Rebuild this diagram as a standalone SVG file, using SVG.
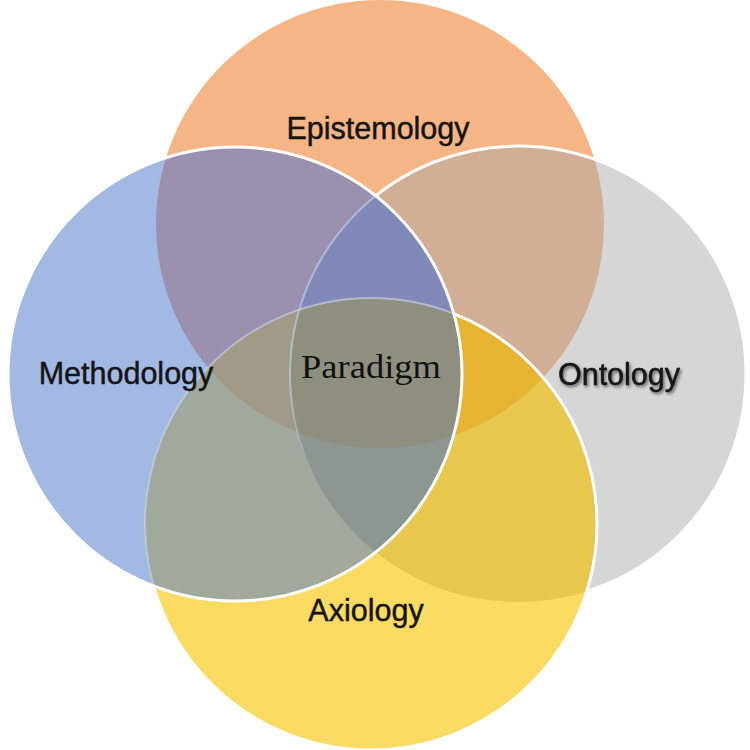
<svg xmlns="http://www.w3.org/2000/svg" width="750" height="750" viewBox="0 0 750 750">
<style>
.lbl{font-family:"Liberation Sans",Arial,sans-serif;font-size:30.5px;fill:#141414;stroke:#141414;stroke-width:0.45;text-anchor:middle}
.edge{fill:none;stroke:#ffffff;stroke-width:3}
.pale{fill:none;stroke:#c9d6ee;stroke-width:2;opacity:0.6}
</style>
<defs>
<clipPath id="cE"><circle cx="380" cy="224" r="224"/></clipPath>
<clipPath id="cM"><circle cx="235" cy="374" r="227"/></clipPath>
<clipPath id="cO"><circle cx="518" cy="374" r="228"/></clipPath>
<clipPath id="cA"><circle cx="371" cy="524" r="226"/></clipPath>
<linearGradient id="fade" x1="0" y1="0" x2="0" y2="1"><stop offset="0" stop-color="#fff"/><stop offset="0.55" stop-color="#fff"/><stop offset="0.72" stop-color="#000"/><stop offset="1" stop-color="#000"/></linearGradient>
<mask id="fadeMask" maskUnits="userSpaceOnUse" x="0" y="0" width="750" height="750"><rect x="0" y="140" width="750" height="460" fill="url(#fade)"/></mask>
<mask id="outMA"><rect width="750" height="750" fill="#fff"/><circle cx="235" cy="374" r="226" fill="#000"/><circle cx="371" cy="524" r="225" fill="#000"/></mask>
<mask id="outM"><rect width="750" height="750" fill="#fff"/><circle cx="235" cy="374" r="226" fill="#000"/></mask>
<filter id="sh" x="-20%" y="-40%" width="140%" height="180%"><feDropShadow dx="1.5" dy="2" stdDeviation="1.8" flood-color="#000" flood-opacity="0.55"/></filter>
</defs>
<rect width="750" height="750" fill="#ffffff"/>

<g id="epistemology"><circle cx="380" cy="224" r="224" fill="#f5b585"/></g>
<g id="ontology"><circle cx="518" cy="374" r="228" fill="#d6d6d6"/></g>
<g id="axiology"><circle cx="371" cy="524" r="226" fill="#fcdb62"/></g>
<g id="methodology"><circle cx="235" cy="374" r="227" fill="#a2b9e3"/></g>

<g id="overlaps">
<g clip-path="url(#cE)"><circle cx="518" cy="374" r="228" fill="#d1ae96"/></g>
<g clip-path="url(#cE)"><circle cx="235" cy="374" r="227" fill="#9b90b0"/></g>
<g clip-path="url(#cO)"><circle cx="371" cy="524" r="226" fill="#e8c74f"/></g>
<g clip-path="url(#cM)"><circle cx="371" cy="524" r="226" fill="#a1a99c"/></g>
<g clip-path="url(#cE)"><g clip-path="url(#cO)"><circle cx="235" cy="374" r="227" fill="#8189b8"/></g></g>
<g clip-path="url(#cE)"><g clip-path="url(#cO)"><circle cx="371" cy="524" r="226" fill="#e6b431"/></g></g>
<g clip-path="url(#cE)"><g clip-path="url(#cM)"><circle cx="371" cy="524" r="226" fill="#a09a87"/></g></g>
<g clip-path="url(#cM)"><g clip-path="url(#cO)"><circle cx="371" cy="524" r="226" fill="#8c9791"/></g></g>
<g clip-path="url(#cE)"><g clip-path="url(#cM)"><g clip-path="url(#cO)"><circle cx="371" cy="524" r="226" fill="#8f8f80"/></g></g></g>
</g>

<g id="edges">
<circle class="edge" cx="518" cy="374" r="228" mask="url(#outMA)"/>
<g mask="url(#fadeMask)"><circle class="pale" cx="518" cy="374" r="228" clip-path="url(#cM)"/></g>
<circle class="edge" cx="371" cy="524" r="226" mask="url(#outM)"/>
<circle class="pale" cx="371" cy="524" r="226" clip-path="url(#cM)"/>
<circle class="edge" cx="235" cy="374" r="227"/>
</g>

<g id="labels">
<text class="lbl" x="378" y="139">Epistemology</text>
<text class="lbl" x="126" y="384">Methodology</text>
<text class="lbl" x="619" y="385" filter="url(#sh)">Ontology</text>
<text class="lbl" x="366" y="621">Axiology</text>
</g>
<g id="paradigm">
<text x="371" y="378" font-family="'Liberation Serif','Times New Roman',serif" font-size="34" fill="#111" text-anchor="middle" textLength="140" lengthAdjust="spacingAndGlyphs">Paradigm</text>
</g>
</svg>
